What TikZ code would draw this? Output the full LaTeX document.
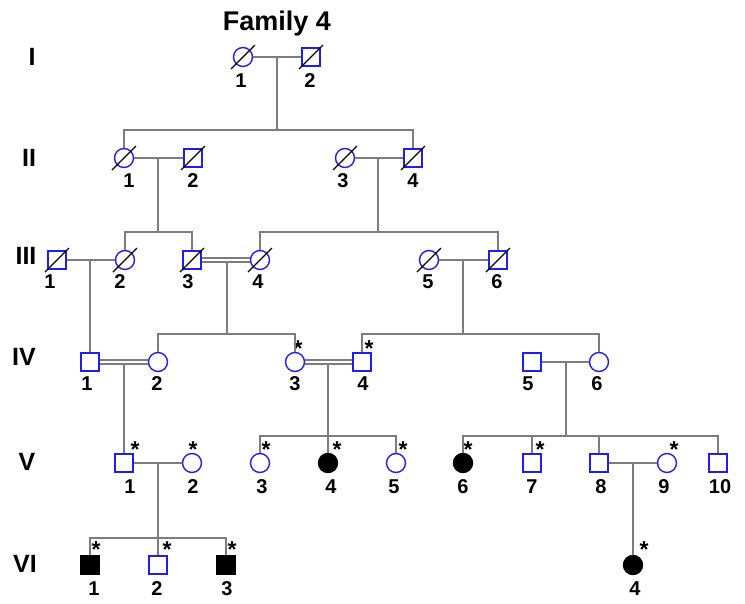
\documentclass[tikz,border=0pt]{standalone}
\usepackage{fontspec}
\setmainfont{Liberation Sans}
\usetikzlibrary{calc}
\definecolor{symblue}{RGB}{30,30,240}
\definecolor{linegray}{RGB}{125,125,125}
% diagonal stroke through a deceased individual
\newcommand\deceased[1]{\draw[slash] ($(#1)+(-12,12)$) -- ($(#1)+(12,-12)$);}
\begin{document}
\begin{tikzpicture}[x=1pt,y=-1pt,
  male/.style={rectangle,draw=symblue,line width=1.4pt,minimum size=18pt,inner sep=0pt},
  female/.style={circle,draw=symblue,line width=1.4pt,minimum size=19pt,inner sep=0pt},
  affected/.style={fill=black,draw=black},
  kin/.style={draw=linegray,line width=1.2pt},
  slash/.style={draw=black,line width=1.1pt},
  num/.style={font=\bfseries\fontsize{20}{20}\selectfont,inner sep=0pt},
  gen/.style={font=\bfseries\fontsize{25}{25}\selectfont,inner sep=0pt},
  asterisk/.style={font=\bfseries\fontsize{23}{23}\selectfont,inner sep=0pt},
]
\useasboundingbox (0,0) rectangle (745,603);

% title and generation numerals
\node[font=\bfseries\fontsize{27}{27}\selectfont,inner sep=0pt,anchor=base] (title) at (277,30) {Family 4};
\node[gen] (gI)   at (32,57)  {I};
\node[gen] (gII)  at (29,158) {II};
\node[gen] (gIII) at (26,256) {III};
\node[gen] (gIV)  at (24,357) {IV};
\node[gen] (gV)   at (27,462) {V};
\node[gen] (gVI)  at (25,564) {VI};

% ---------- generation I ----------
\node[female] (I1) at (243,57) {};
\node[male]   (I2) at (311,57) {};
\node[num] (lI1) at (241,81) {1};
\node[num] (lI2) at (310,81) {2};

% ---------- generation II ----------
\node[female] (II1) at (124,158) {};
\node[male]   (II2) at (193,158) {};
\node[female] (II3) at (345,158) {};
\node[male]   (II4) at (413,158) {};
\node[num] (lII1) at (129,181) {1};
\node[num] (lII2) at (193,181) {2};
\node[num] (lII3) at (343,181) {3};
\node[num] (lII4) at (413,181) {4};

% ---------- generation III ----------
\node[male]   (III1) at (57,260)  {};
\node[female] (III2) at (125,260) {};
\node[male]   (III3) at (192,260) {};
\node[female] (III4) at (260,260) {};
\node[female] (III5) at (429,260) {};
\node[male]   (III6) at (498,260) {};
\node[num] (lIII1) at (50,282)  {1};
\node[num] (lIII2) at (120,282) {2};
\node[num] (lIII3) at (188,282) {3};
\node[num] (lIII4) at (258,282) {4};
\node[num] (lIII5) at (428,282) {5};
\node[num] (lIII6) at (497,282) {6};

% ---------- generation IV ----------
\node[male]   (IV1) at (90,362)  {};
\node[female] (IV2) at (158,362) {};
\node[female] (IV3) at (295,362) {};
\node[male]   (IV4) at (362,362) {};
\node[male]   (IV5) at (532,362) {};
\node[female] (IV6) at (599,362) {};
\node[num] (lIV1) at (87,384)  {1};
\node[num] (lIV2) at (157,384) {2};
\node[num] (lIV3) at (295,384) {3};
\node[num] (lIV4) at (363,384) {4};
\node[num] (lIV5) at (528,384) {5};
\node[num] (lIV6) at (597,384) {6};
\node[asterisk] (sIV3) at (298,349) {*};
\node[asterisk] (sIV4) at (369,349) {*};

% ---------- generation V ----------
\node[male]            (V1)  at (124,463) {};
\node[female]          (V2)  at (192,463) {};
\node[female]          (V3)  at (260,463) {};
\node[female,affected] (V4)  at (328,463) {};
\node[female]          (V5)  at (396,463) {};
\node[female,affected] (V6)  at (463,463) {};
\node[male]            (V7)  at (532,463) {};
\node[male]            (V8)  at (599,463) {};
\node[female]          (V9)  at (667,463) {};
\node[male]            (V10) at (718,463) {};
\node[num] (lV1)  at (130,487) {1};
\node[num] (lV2)  at (193,487) {2};
\node[num] (lV3)  at (262,487) {3};
\node[num] (lV4)  at (331,487) {4};
\node[num] (lV5)  at (394,487) {5};
\node[num] (lV6)  at (463,487) {6};
\node[num] (lV7)  at (532,487) {7};
\node[num] (lV8)  at (601,487) {8};
\node[num] (lV9)  at (664,487) {9};
\node[num] (lV10) at (720,487) {10};
\node[asterisk] (sV1) at (135,450) {*};
\node[asterisk] (sV2) at (193,450) {*};
\node[asterisk] (sV3) at (266,450) {*};
\node[asterisk] (sV4) at (337,450) {*};
\node[asterisk] (sV5) at (403,450) {*};
\node[asterisk] (sV6) at (468,450) {*};
\node[asterisk] (sV7) at (540,450) {*};
\node[asterisk] (sV9) at (674,450) {*};

% ---------- generation VI ----------
\node[male,affected]   (VI1) at (90,565)  {};
\node[male]            (VI2) at (158,565) {};
\node[male,affected]   (VI3) at (226,565) {};
\node[female,affected] (VI4) at (633,565) {};
\node[num] (lVI1) at (94,589)  {1};
\node[num] (lVI2) at (157,589) {2};
\node[num] (lVI3) at (227,589) {3};
\node[num] (lVI4) at (635,589) {4};
\node[asterisk] (sVI1) at (96,550)  {*};
\node[asterisk] (sVI2) at (167,550) {*};
\node[asterisk] (sVI3) at (232,550) {*};
\node[asterisk] (sVI4) at (644,550) {*};

% ---------- marriage and descent lines ----------
% I-1 x I-2
\coordinate (mI)  at (277,57);
\coordinate (dI)  at (277,130);
\draw[kin] (I1.east) -- (I2.west);
\draw[kin] (mI) -- (dI);
\draw[kin] (II1.north) |- (dI) -| (II4.north);

% II-1 x II-2
\coordinate (mII1) at (158,158);
\coordinate (dII1) at (158,232);
\draw[kin] (II1.east) -- (II2.west);
\draw[kin] (mII1) -- (dII1);
\draw[kin] (III2.north) |- (dII1) -| (III3.north);

% II-3 x II-4
\coordinate (mII3) at (378,158);
\coordinate (dII3) at (378,232);
\draw[kin] (II3.east) -- (II4.west);
\draw[kin] (mII3) -- (dII3);
\draw[kin] (III4.north) |- (dII3) -| (III6.north);

% III-1 x III-2
\coordinate (mIII1) at (90,260);
\draw[kin] (III1.east) -- (III2.west);
\draw[kin] (mIII1) -- (IV1.north);

% III-3 = III-4 (consanguineous)
\coordinate (mIII3) at (227,262);
\coordinate (dIII3) at (227,334);
\draw[kin] ([yshift=2pt]III3.east) -- ([yshift=2pt]III4.west);
\draw[kin] ([yshift=-2pt]III3.east) -- ([yshift=-2pt]III4.west);
\draw[kin] (mIII3) -- (dIII3);
\draw[kin] (IV2.north) |- (dIII3) -| (IV3.north);

% III-5 x III-6
\coordinate (mIII5) at (463,260);
\coordinate (dIII5) at (463,334);
\draw[kin] (III5.east) -- (III6.west);
\draw[kin] (mIII5) -- (dIII5);
\draw[kin] (IV4.north) |- (dIII5) -| (IV6.north);

% IV-1 = IV-2 (consanguineous)
\coordinate (mIV1) at (124,364);
\draw[kin] ([yshift=2pt]IV1.east) -- ([yshift=2pt]IV2.west);
\draw[kin] ([yshift=-2pt]IV1.east) -- ([yshift=-2pt]IV2.west);
\draw[kin] (mIV1) -- (V1.north);

% IV-3 = IV-4 (consanguineous)
\coordinate (mIV3) at (328,364);
\coordinate (dIV3) at (328,436);
\draw[kin] ([yshift=2pt]IV3.east) -- ([yshift=2pt]IV4.west);
\draw[kin] ([yshift=-2pt]IV3.east) -- ([yshift=-2pt]IV4.west);
\draw[kin] (mIV3) -- (V4.north);
\draw[kin] (V3.north) |- (dIV3) -| (V5.north);

% IV-5 x IV-6
\coordinate (mIV5) at (566,362);
\coordinate (dIV5) at (566,436);
\draw[kin] (IV5.east) -- (IV6.west);
\draw[kin] (mIV5) -- (dIV5);
\draw[kin] (V6.north) |- (dIV5) -| (V10.north);
\draw[kin] (V7.north) -- (V7.north |- dIV5);
\draw[kin] (V8.north) -- (V8.north |- dIV5);

% V-1 x V-2
\coordinate (mV1) at (158,463);
\coordinate (dV1) at (158,538);
\draw[kin] (V1.east) -- (V2.west);
\draw[kin] (mV1) -- (VI2.north);
\draw[kin] (VI1.north) |- (dV1) -| (VI3.north);

% V-8 x V-9
\coordinate (mV8) at (633,463);
\draw[kin] (V8.east) -- (V9.west);
\draw[kin] (mV8) -- (VI4.north);

% ---------- deceased markers ----------
\foreach \p in {I1,I2,II1,II2,II3,II4,III1,III2,III3,III4,III5,III6}{\deceased{\p}}
\end{tikzpicture}
\end{document}
